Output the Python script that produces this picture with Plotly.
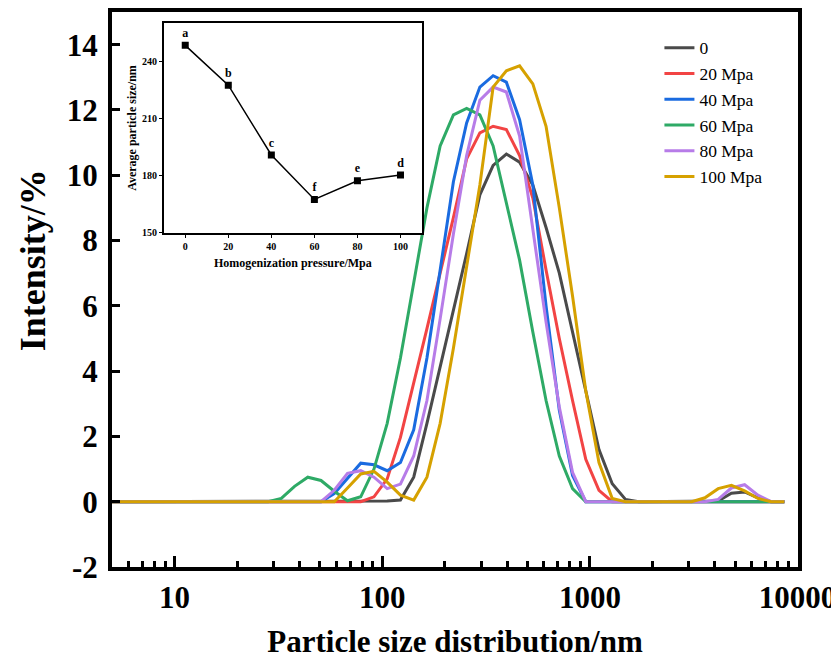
import plotly.graph_objects as go

# Particle size bins (nm)
sizes = [4.849, 5.615, 6.503, 7.531, 8.721, 10.10, 11.70, 13.54, 15.69, 18.17,
         21.04, 24.36, 28.21, 32.67, 37.84, 43.82, 50.75, 58.77, 68.06, 78.82,
         91.28, 105.7, 122.4, 141.8, 164.2, 190.1, 220.2, 255.0, 295.3, 342.0,
         396.1, 458.7, 531.2, 615.1, 712.4, 825.0, 955.4, 1106, 1281, 1484,
         1718, 1990, 2305, 2669, 3091, 3580, 4145, 4801, 5560, 6439, 7456, 8635]

p0 = [0]*21 + [0.02, 0.05, 0.75, 2.4, 4.1, 5.8, 7.6, 9.4, 10.3, 10.65, 10.4, 9.7, 8.4,
               7.0, 5.2, 3.3, 1.6, 0.55, 0.07, 0, 0, 0, 0, 0, 0, 0.02, 0.26, 0.3, 0.12, 0, 0]
p20 = [0]*20 + [0.15, 0.7, 1.97, 3.6, 5.3, 7.0, 8.7, 10.5, 11.3, 11.5, 11.4, 10.6, 9.3,
                7.1, 5.0, 3.1, 1.3, 0.35] + [0]*14
p40 = [0]*17 + [0.25, 0.7, 1.18, 1.13, 0.95, 1.2, 2.2, 4.4, 7.1, 9.8, 11.6, 12.7, 13.05,
                12.85, 11.7, 9.7, 6.0, 2.8, 0.8] + [0]*16
p60 = [0]*13 + [0.1, 0.47, 0.75, 0.65, 0.32, 0.03, 0.15, 1.0, 2.4, 4.4, 6.7, 9.0, 10.9,
                11.85, 12.05, 11.85, 10.9, 9.1, 7.4, 5.2, 3.1, 1.4, 0.4] + [0]*16
p80 = [0]*17 + [0.35, 0.87, 0.95, 0.75, 0.4, 0.54, 1.4, 3.1, 5.6, 8.2, 10.6, 12.3, 12.7,
                12.55, 11.2, 8.4, 5.5, 2.9, 0.9] + [0]*10 + [0.07, 0.42, 0.52, 0.2, 0, 0]
p100 = [0]*18 + [0.42, 0.85, 0.93, 0.6, 0.2, 0.05, 0.75, 2.4, 4.7, 7.2, 9.7, 12.7, 13.2,
                 13.35, 12.8, 11.5, 9.0, 6.3, 3.4, 1.2, 0.1] + [0]*6 + [0.12, 0.4, 0.5, 0.33, 0.1, 0, 0]

series_names = ["0", "20 Mpa", "40 Mpa", "60 Mpa", "80 Mpa", "100 Mpa"]
series_values = [p0, p20, p40, p60, p80, p100]
series_colors = ["#4a4a4a", "#f24444", "#1a6be0", "#2eaa66", "#b77ce8", "#d6a100"]

# Inset data
pressures = [0, 20, 40, 60, 80, 100]
avg_size = [248.3, 227.4, 190.9, 167.6, 177.4, 180.4]
letters = ["a", "b", "c", "f", "e", "d"]

x_ticks = [10, 100, 1000, 10000]
y_ticks = [-2, 0, 2, 4, 6, 8, 10, 12, 14]
y_ticktext = ["-2", "0", "2", "4", "6", "8", "10", "12", "14"]
inset_x_ticks = [0, 20, 40, 60, 80, 100]
inset_y_ticks = [150, 180, 210, 240]

FONT = "Liberation Serif"

fig = go.Figure()
for name, vals, color in zip(series_names, series_values, series_colors):
    fig.add_trace(go.Scatter(x=sizes, y=vals, mode="lines", name=name,
                             line=dict(color=color, width=3),
                             xaxis="x", yaxis="y"))

fig.add_trace(go.Scatter(x=pressures, y=avg_size, mode="lines+markers+text",
                         text=letters, textposition="top center",
                         textfont=dict(family=FONT, size=12, color="black", weight="bold"),
                         marker=dict(symbol="square", size=7, color="black"),
                         line=dict(color="black", width=1.5),
                         showlegend=False, xaxis="x2", yaxis="y2"))

fig.update_layout(
    width=831, height=651,
    margin=dict(l=104, r=41, t=4, b=92, autoexpand=False),
    paper_bgcolor="white", plot_bgcolor="white",
    font=dict(family=FONT, color="black"),
    showlegend=True,
    legend=dict(x=0.798, y=0.968, xanchor="left", yanchor="top",
                font=dict(family=FONT, size=17.5, color="black"),
                bgcolor="rgba(0,0,0,0)", tracegroupgap=0),
    xaxis=dict(type="log", range=[0.699, 4.002], automargin=False,
               tickvals=x_ticks, ticktext=[str(v) for v in x_ticks],
               ticks="inside", ticklen=11, tickwidth=3, tickcolor="black",
               showline=True, linewidth=4, linecolor="black", mirror=True,
               showgrid=False, zeroline=False,
               tickfont=dict(family=FONT, size=31, color="black", weight="bold"),
               ticklabelstandoff=0,
               minor=dict(dtick="D1", ticks="inside", ticklen=6, tickwidth=2.5,
                          tickcolor="black", showgrid=False),
               title=dict(text="Particle size distribution/nm", standoff=23,
                          font=dict(family=FONT, size=31, color="black", weight="bold"))),
    yaxis=dict(range=[-2, 15], tickvals=y_ticks, ticktext=y_ticktext, automargin=False,
               ticks="inside", ticklen=8, tickwidth=3, tickcolor="black",
               showline=True, linewidth=4, linecolor="black", mirror=True,
               showgrid=False, zeroline=False,
               tickfont=dict(family=FONT, size=31, color="black", weight="bold"),
               ticklabelstandoff=4),
    xaxis2=dict(domain=[0.0754, 0.4519], anchor="y2", range=[-10, 110], automargin=False,
                tickvals=inset_x_ticks, ticks="outside", ticklen=3, tickwidth=1,
                tickcolor="black", showline=True, linewidth=1.5, linecolor="black",
                mirror=True, showgrid=False, zeroline=False,
                tickfont=dict(family=FONT, size=10, color="black", weight="bold"),
                title=dict(text="Homogenization pressure/Mpa", standoff=8,
                           font=dict(family=FONT, size=12, color="black", weight="bold"))),
    yaxis2=dict(domain=[0.6018, 0.9802], anchor="x2", range=[150, 260], automargin=False,
                tickvals=inset_y_ticks, ticks="outside", ticklen=3, tickwidth=1,
                tickcolor="black", showline=True, linewidth=1.5, linecolor="black",
                mirror=True, showgrid=False, zeroline=False,
                tickfont=dict(family=FONT, size=10, color="black", weight="bold"),
                title=dict(text="Average particle size/nm", standoff=3,
                           font=dict(family=FONT, size=12, color="black", weight="bold"))),
    annotations=[dict(text="Intensity/%", textangle=-90, showarrow=False,
                      xref="paper", yref="paper", x=-0.115, y=0.553,
                      xanchor="center", yanchor="middle",
                      font=dict(family=FONT, size=36, color="black", weight="bold"))],
)

fig.write_html("out.html")
